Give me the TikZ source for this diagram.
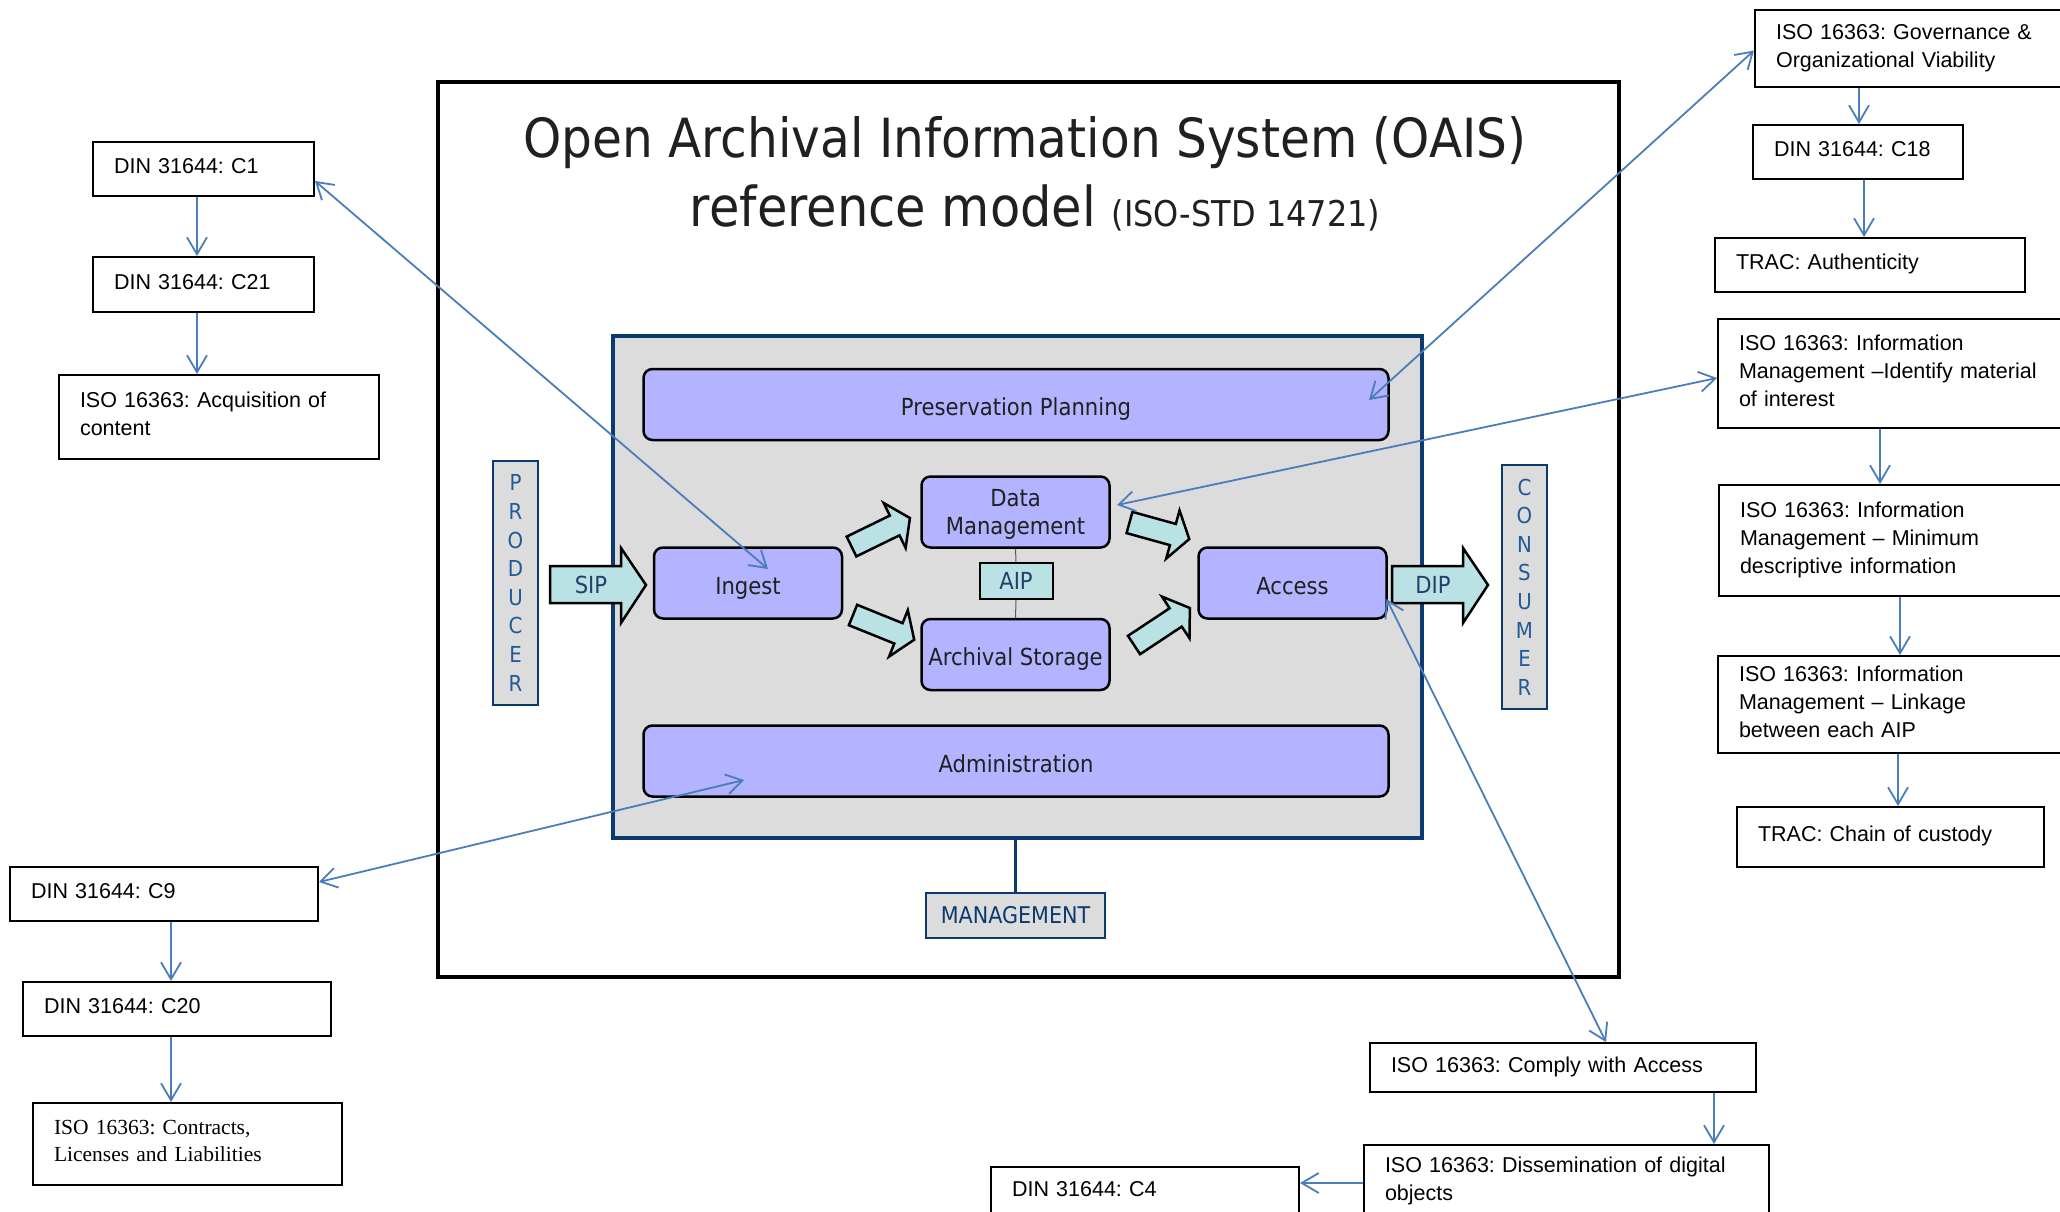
\documentclass[tikz,border=0pt]{standalone}
\usepackage{fontspec}
\setmainfont{Liberation Sans}
\newfontfamily\oaisfont[FakeStretch=0.9]{DejaVu Sans}
\newfontfamily\serifbox{Liberation Serif}
\usetikzlibrary{arrows.meta,calc}
\frenchspacing
\definecolor{lav}{HTML}{B3B3FF}
\definecolor{cyanf}{HTML}{BAE1E3}
\definecolor{grayf}{HTML}{DCDCDC}
\definecolor{navy}{HTML}{0A3A6E}
\definecolor{prodtxt}{HTML}{1F5B99}
\definecolor{conn}{HTML}{4A7EBB}
\definecolor{txtdark}{HTML}{202020}
\definecolor{siptxt}{HTML}{23406B}
\newcommand{\blockarrow}[3]{%
  \begin{scope}[shift={#1}, rotate=#2]
    \draw[blk] (0,-11) -- (#3-17,-11) -- (#3-17,-25) -- (#3,0) -- (#3-17,25) -- (#3-17,11) -- (0,11) -- cycle;
  \end{scope}}
\newcommand{\dstrut}{\rule[-6pt]{0pt}{6pt}}
\begin{document}
\begin{tikzpicture}[x=1pt,y=-1pt,
  refbox/.style={draw=black, line width=2pt, fill=white, anchor=north west, align=left,
    inner xsep=21pt, inner ysep=0pt, font=\fontsize{21.5}{28}\selectfont, text=black},
  downarr/.style={draw=conn, line width=1.8pt, -{Straight Barb[length=17pt,width=20pt]}},
  linkarr/.style={draw=conn, line width=1.8pt,
    {Straight Barb[length=16pt,width=20pt]}-{Straight Barb[length=16pt,width=20pt]}},
  func/.style={draw=black, line width=2.5pt, fill=lav, rounded corners=9pt,
    font=\oaisfont\fontsize{23.5}{28}\selectfont, text=txtdark, align=center, inner sep=0pt, text depth=0pt},
  funcone/.style={func, text height=22pt},
  blk/.style={draw=black, line width=2.5pt, fill=cyanf, line join=miter},
  vbox/.style={draw=navy, line width=2.5pt, fill=grayf, minimum width=45pt, minimum height=244pt,
    inner sep=0pt, align=center, font=\oaisfont\fontsize{22}{28.6}\selectfont, text=prodtxt},
  pkgtxt/.style={font=\oaisfont\fontsize{23.5}{28}\selectfont, text=siptxt, inner sep=0pt}
]
\path[use as bounding box] (0,0) rectangle (2060,1211);
\clip (0,0) rectangle (2060,1211);
\fill[white] (0,0) rectangle (2060,1211);

% outer frame and title
\node[draw=black, line width=4pt, minimum width=1181pt, minimum height=895pt, anchor=north west, inner sep=0pt] (outer) at (436,80) {};
\node[anchor=base, inner sep=0pt, text=txtdark, font=\oaisfont\fontsize{54}{60}\selectfont] (title1) at (1025,157) {Open Archival Information System (OAIS)};
\node[anchor=base, inner sep=0pt, text=txtdark] (title2) at (1035,226) {{\oaisfont\fontsize{55}{60}\selectfont reference model }{\oaisfont\fontsize{35.5}{40}\selectfont (ISO-STD 14721)}};

% core
\node[draw=navy, line width=3.5pt, fill=grayf, minimum width=809pt, minimum height=502pt, anchor=north west, inner sep=0pt] (core) at (611,334) {};

% management
\node[draw=navy, line width=2.5pt, fill=grayf, minimum width=179pt, minimum height=45pt, inner sep=0pt,
  font=\oaisfont\fontsize{23}{28}\selectfont, text=navy] (mgmt) at (1015.5,915.5) {MANAGEMENT};
\draw[navy, line width=3.5pt] (core.south -| mgmt.north) -- (mgmt.north);

% producer / consumer
\node[vbox] (producer) at (515.5,583) {P\\R\\O\\D\\U\\C\\E\\R};
\node[vbox] (consumer) at (1524.5,587) {C\\O\\N\\S\\U\\M\\E\\R};

% functional entities
\node[funcone, minimum width=745pt, minimum height=71pt] (pp) at (1016,404.5) {Preservation Planning};
\node[funcone, minimum width=745pt, minimum height=71pt] (admin) at (1016,761) {Administration};
\node[funcone, minimum width=188pt, minimum height=71pt] (ingest) at (748,583) {Ingest};
\node[func, minimum width=188pt, minimum height=71pt] (dm) at (1015.5,512) {Data\\Management};
\node[funcone, minimum width=188pt, minimum height=71pt] (as) at (1015.5,654.5) {Archival Storage};
\node[funcone, minimum width=188pt, minimum height=71pt] (access) at (1292.5,583) {Access};

% AIP
\node[draw=black, line width=2pt, fill=cyanf, minimum width=73pt, minimum height=36pt, inner sep=0pt,
  font=\oaisfont\fontsize{23.5}{28}\selectfont, text=siptxt] (aip) at (1016,581) {AIP};
\draw[black!65, line width=1pt] (dm.south) -- (aip.north);
\draw[black!65, line width=1pt] (aip.south) -- (as.north);

% block arrows
\blockarrow{(851.5,546.5)}{26}{65}
\blockarrow{(853,615)}{-22}{66}
\blockarrow{(1129.5,522.5)}{-15.5}{62}
\blockarrow{(1134,645)}{33.5}{67}

% SIP / DIP
\draw[blk] (550,566) -- (621,566) -- (621,548) -- (646,585) -- (621,623) -- (621,603) -- (550,603) -- cycle;
\node[pkgtxt] (sip) at (591,585) {SIP};
\draw[blk] (1392,566) -- (1463,566) -- (1463,548) -- (1488,585) -- (1463,623) -- (1463,603) -- (1392,603) -- cycle;
\node[pkgtxt] (dip) at (1433,585) {DIP};

% left column
\node[refbox, text width=179pt, minimum height=54pt] (c1) at (92,141) {DIN 31644: C1\dstrut};
\node[refbox, text width=179pt, minimum height=55pt] (c21) at (92,256) {DIN 31644: C21\dstrut};
\node[refbox, text width=278pt, minimum height=84pt] (acq) at (58,374) {ISO 16363: Acquisition of\\content\dstrut};
\node[refbox, text width=266pt, minimum height=54pt] (c9) at (9,866) {DIN 31644: C9\dstrut};
\node[refbox, text width=266pt, minimum height=54pt] (c20) at (22,981) {DIN 31644: C20\dstrut};
\node[refbox, text width=267pt, minimum height=82pt, font=\serifbox\fontsize{21.5}{27.5}\selectfont] (contracts) at (32,1102) {ISO 16363: Contracts,\\Licenses and Liabilities\dstrut};

% right column
\node[refbox, text width=288pt, minimum height=77pt] (gov) at (1754,9) {ISO 16363: Governance \&\\Organizational Viability\dstrut};
\node[refbox, text width=168pt, minimum height=54pt] (c18) at (1752,124) {DIN 31644: C18\dstrut};
\node[refbox, text width=268pt, minimum height=54pt] (auth) at (1714,237) {TRAC: Authenticity\dstrut};
\node[refbox, text width=318pt, minimum height=109pt] (ident) at (1717,318) {ISO 16363: Information\\Management –Identify material\\of interest\dstrut};
\node[refbox, text width=318pt, minimum height=111pt] (minim) at (1718,484) {ISO 16363: Information\\Management – Minimum\\descriptive information\dstrut};
\node[refbox, text width=318pt, minimum height=97pt] (linkage) at (1717,655) {ISO 16363: Information\\Management – Linkage\\between each AIP\dstrut};
\node[refbox, text width=265pt, minimum height=60pt] (chain) at (1736,806) {TRAC: Chain of custody\dstrut};

% bottom
\node[refbox, text width=344pt, minimum height=49pt] (comply) at (1369,1042) {ISO 16363: Comply with Access\dstrut};
\node[refbox, text width=363pt, minimum height=74pt] (dissem) at (1363,1144) {ISO 16363: Dissemination of digital\\objects\dstrut};
\node[refbox, text width=266pt, minimum height=50pt] (c4) at (990,1166) {DIN 31644: C4\dstrut};

% vertical chain arrows
\coordinate (xa) at (197,0);
\coordinate (xb) at (171,0);
\coordinate (xg) at (1859,0);
\coordinate (xc) at (1864,0);
\coordinate (xi) at (1880,0);
\coordinate (xm) at (1900,0);
\coordinate (xl) at (1898,0);
\coordinate (xd) at (1714,0);
\coordinate (yc) at (0,1183);
\draw[downarr] (c1.south -| xa) -- (c21.north -| xa);
\draw[downarr] (c21.south -| xa) -- (acq.north -| xa);
\draw[downarr] (c9.south -| xb) -- (c20.north -| xb);
\draw[downarr] (c20.south -| xb) -- (contracts.north -| xb);
\draw[downarr] (gov.south -| xg) -- (c18.north -| xg);
\draw[downarr] (c18.south -| xc) -- (auth.north -| xc);
\draw[downarr] (ident.south -| xi) -- (minim.north -| xi);
\draw[downarr] (minim.south -| xm) -- (linkage.north -| xm);
\draw[downarr] (linkage.south -| xl) -- (chain.north -| xl);
\draw[downarr] (comply.south -| xd) -- (dissem.north -| xd);
\draw[downarr] (dissem.west |- yc) -- (c4.east |- yc);

% cross links to the OAIS model
\coordinate (ingpt) at (768,569);
\coordinate (admpt) at (744,780);
\coordinate (pppt) at (1369,400);
\coordinate (dmpt) at (1117,505);
\coordinate (accpt) at (1386.5,599);
\draw[linkarr] ([yshift=-12pt]c1.east) -- (ingpt);
\draw[linkarr] ([yshift=12pt]c9.east) -- (admpt);
\draw[linkarr] ([yshift=-2pt]gov.west) -- (pppt);
\draw[linkarr] ([yshift=-4.5pt]ident.west) -- (dmpt);
\draw[linkarr] ([xshift=43pt]comply.north) -- (accpt);
\end{tikzpicture}
\end{document}
